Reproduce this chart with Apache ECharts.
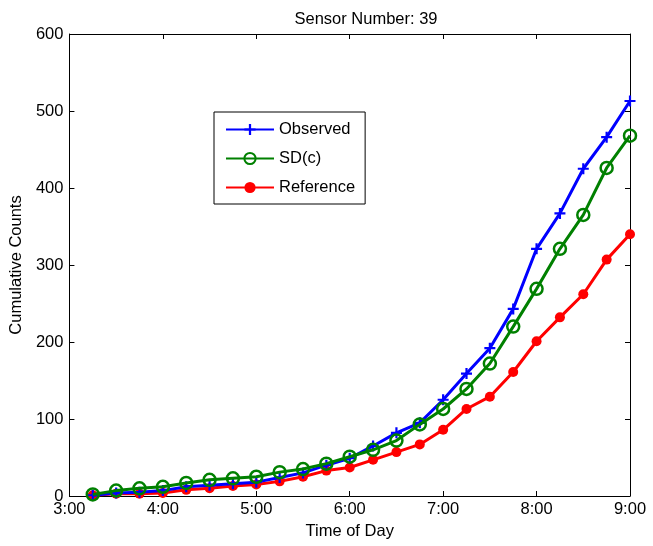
<!DOCTYPE html>
<html>
<head>
<meta charset="utf-8">
<script src="https://cdn.jsdelivr.net/npm/echarts@6/dist/echarts.min.js"></script>
<style>
html,body{margin:0;padding:0;background:#fff;}
#main{width:653px;height:546px;}
</style>
</head>
<body>
<div id="main"></div>
<script>
// time stamps, every 15 minutes
var times = ['3:15','3:30','3:45','4:00','4:15','4:30','4:45','5:00','5:15','5:30','5:45','6:00',
             '6:15','6:30','6:45','7:00','7:15','7:30','7:45','8:00','8:15','8:30','8:45','9:00'];
var observed  = [1, 4, 5, 7, 12, 14, 16, 18, 24, 30, 40, 49, 65, 82, 95, 125, 159, 192, 243, 321, 367, 425, 466, 513];
var sdc       = [2, 7, 10, 12, 17, 21, 23, 25, 31, 35, 42, 51, 60, 72, 93, 113, 139, 172, 220, 269, 321, 365, 426, 468];
var reference = [1, 3, 3, 4, 8, 10, 13, 15, 19, 25, 33, 37, 47, 57, 67, 86, 113, 129, 161, 201, 232, 262, 307, 340];

function toHours(t){
    var p = t.split(':');
    return +p[0] + (+p[1]) / 60;
}
function pairs(vals){
    return vals.map(function (v, i) { return [toHours(times[i]), v]; });
}

var plusPath = 'path://M4,0 L6,0 L6,4 L10,4 L10,6 L6,6 L6,10 L4,10 L4,6 L0,6 L0,4 L4,4 Z';
var font = 'Liberation Sans, Arial, sans-serif';
var fs = 16.5;

var chart = echarts.init(document.getElementById('main'));

var axisCommon = {
    axisLine: {show: true, onZero: false, lineStyle: {color: '#000', width: 1}},
    axisTick: {show: true, inside: true, length: 5, lineStyle: {color: '#000'}},
    splitLine: {show: false}
};

var option = {
    backgroundColor: '#fff',
    animation: false,
    title: {
        text: 'Sensor Number: 39',
        left: 361, top: 6, textAlign: 'center',
        textStyle: {fontFamily: font, fontSize: fs, fontWeight: 'normal', color: '#000'}
    },
    grid: {left: 68, right: 23, top: 34, bottom: 50},
    legend: {
        orient: 'vertical',
        left: 214, top: 112,
        padding: [9, 10, 8, 11],
        itemWidth: 48, itemHeight: 14, itemGap: 12,
        borderColor: '#000', borderWidth: 1,
        backgroundColor: '#fff',
        textStyle: {fontFamily: font, fontSize: fs, lineHeight: 16, color: '#000'},
        data: ['Observed', 'SD(c)', 'Reference']
    },
    xAxis: [
        Object.assign({
            type: 'value', min: 3, max: 9, interval: 1,
            name: 'Time of Day', nameLocation: 'middle', nameGap: 27,
            nameTextStyle: {fontFamily: font, fontSize: fs, color: '#000'},
            axisLabel: {fontFamily: font, fontSize: fs, color: '#000', margin: 5,
                formatter: function (v) { return v + ':00'; }}
        }, axisCommon),
        Object.assign({
            type: 'value', min: 3, max: 9, interval: 1, position: 'top',
            axisLabel: {show: false}
        }, axisCommon)
    ],
    yAxis: [
        Object.assign({
            type: 'value', min: 0, max: 600, interval: 100,
            name: 'Cumulative Counts', nameLocation: 'middle', nameGap: 42,
            nameTextStyle: {fontFamily: font, fontSize: fs, color: '#000'},
            axisLabel: {fontFamily: font, fontSize: fs, color: '#000', margin: 6}
        }, axisCommon),
        Object.assign({
            type: 'value', min: 0, max: 600, interval: 100, position: 'right',
            axisLabel: {show: false}
        }, axisCommon)
    ],
    series: [
        {
            name: 'Observed', type: 'line', data: pairs(observed),
            color: '#0000ff',
            lineStyle: {width: 3, color: '#0000ff'},
            symbol: plusPath, symbolSize: 11,
            itemStyle: {color: '#0000ff'},
            z: 3
        },
        {
            name: 'SD(c)', type: 'line', data: pairs(sdc),
            color: '#008000',
            lineStyle: {width: 3, color: '#008000'},
            symbol: 'circle', symbolSize: 12,
            itemStyle: {color: 'rgba(255,255,255,0)', borderColor: '#008000', borderWidth: 2.5},
            z: 4
        },
        {
            name: 'Reference', type: 'line', data: pairs(reference),
            color: '#ff0000',
            lineStyle: {width: 3, color: '#ff0000'},
            symbol: 'circle', symbolSize: 10,
            itemStyle: {color: '#ff0000'},
            z: 2
        }
    ]
};

chart.setOption(option);
</script>
</body>
</html>
